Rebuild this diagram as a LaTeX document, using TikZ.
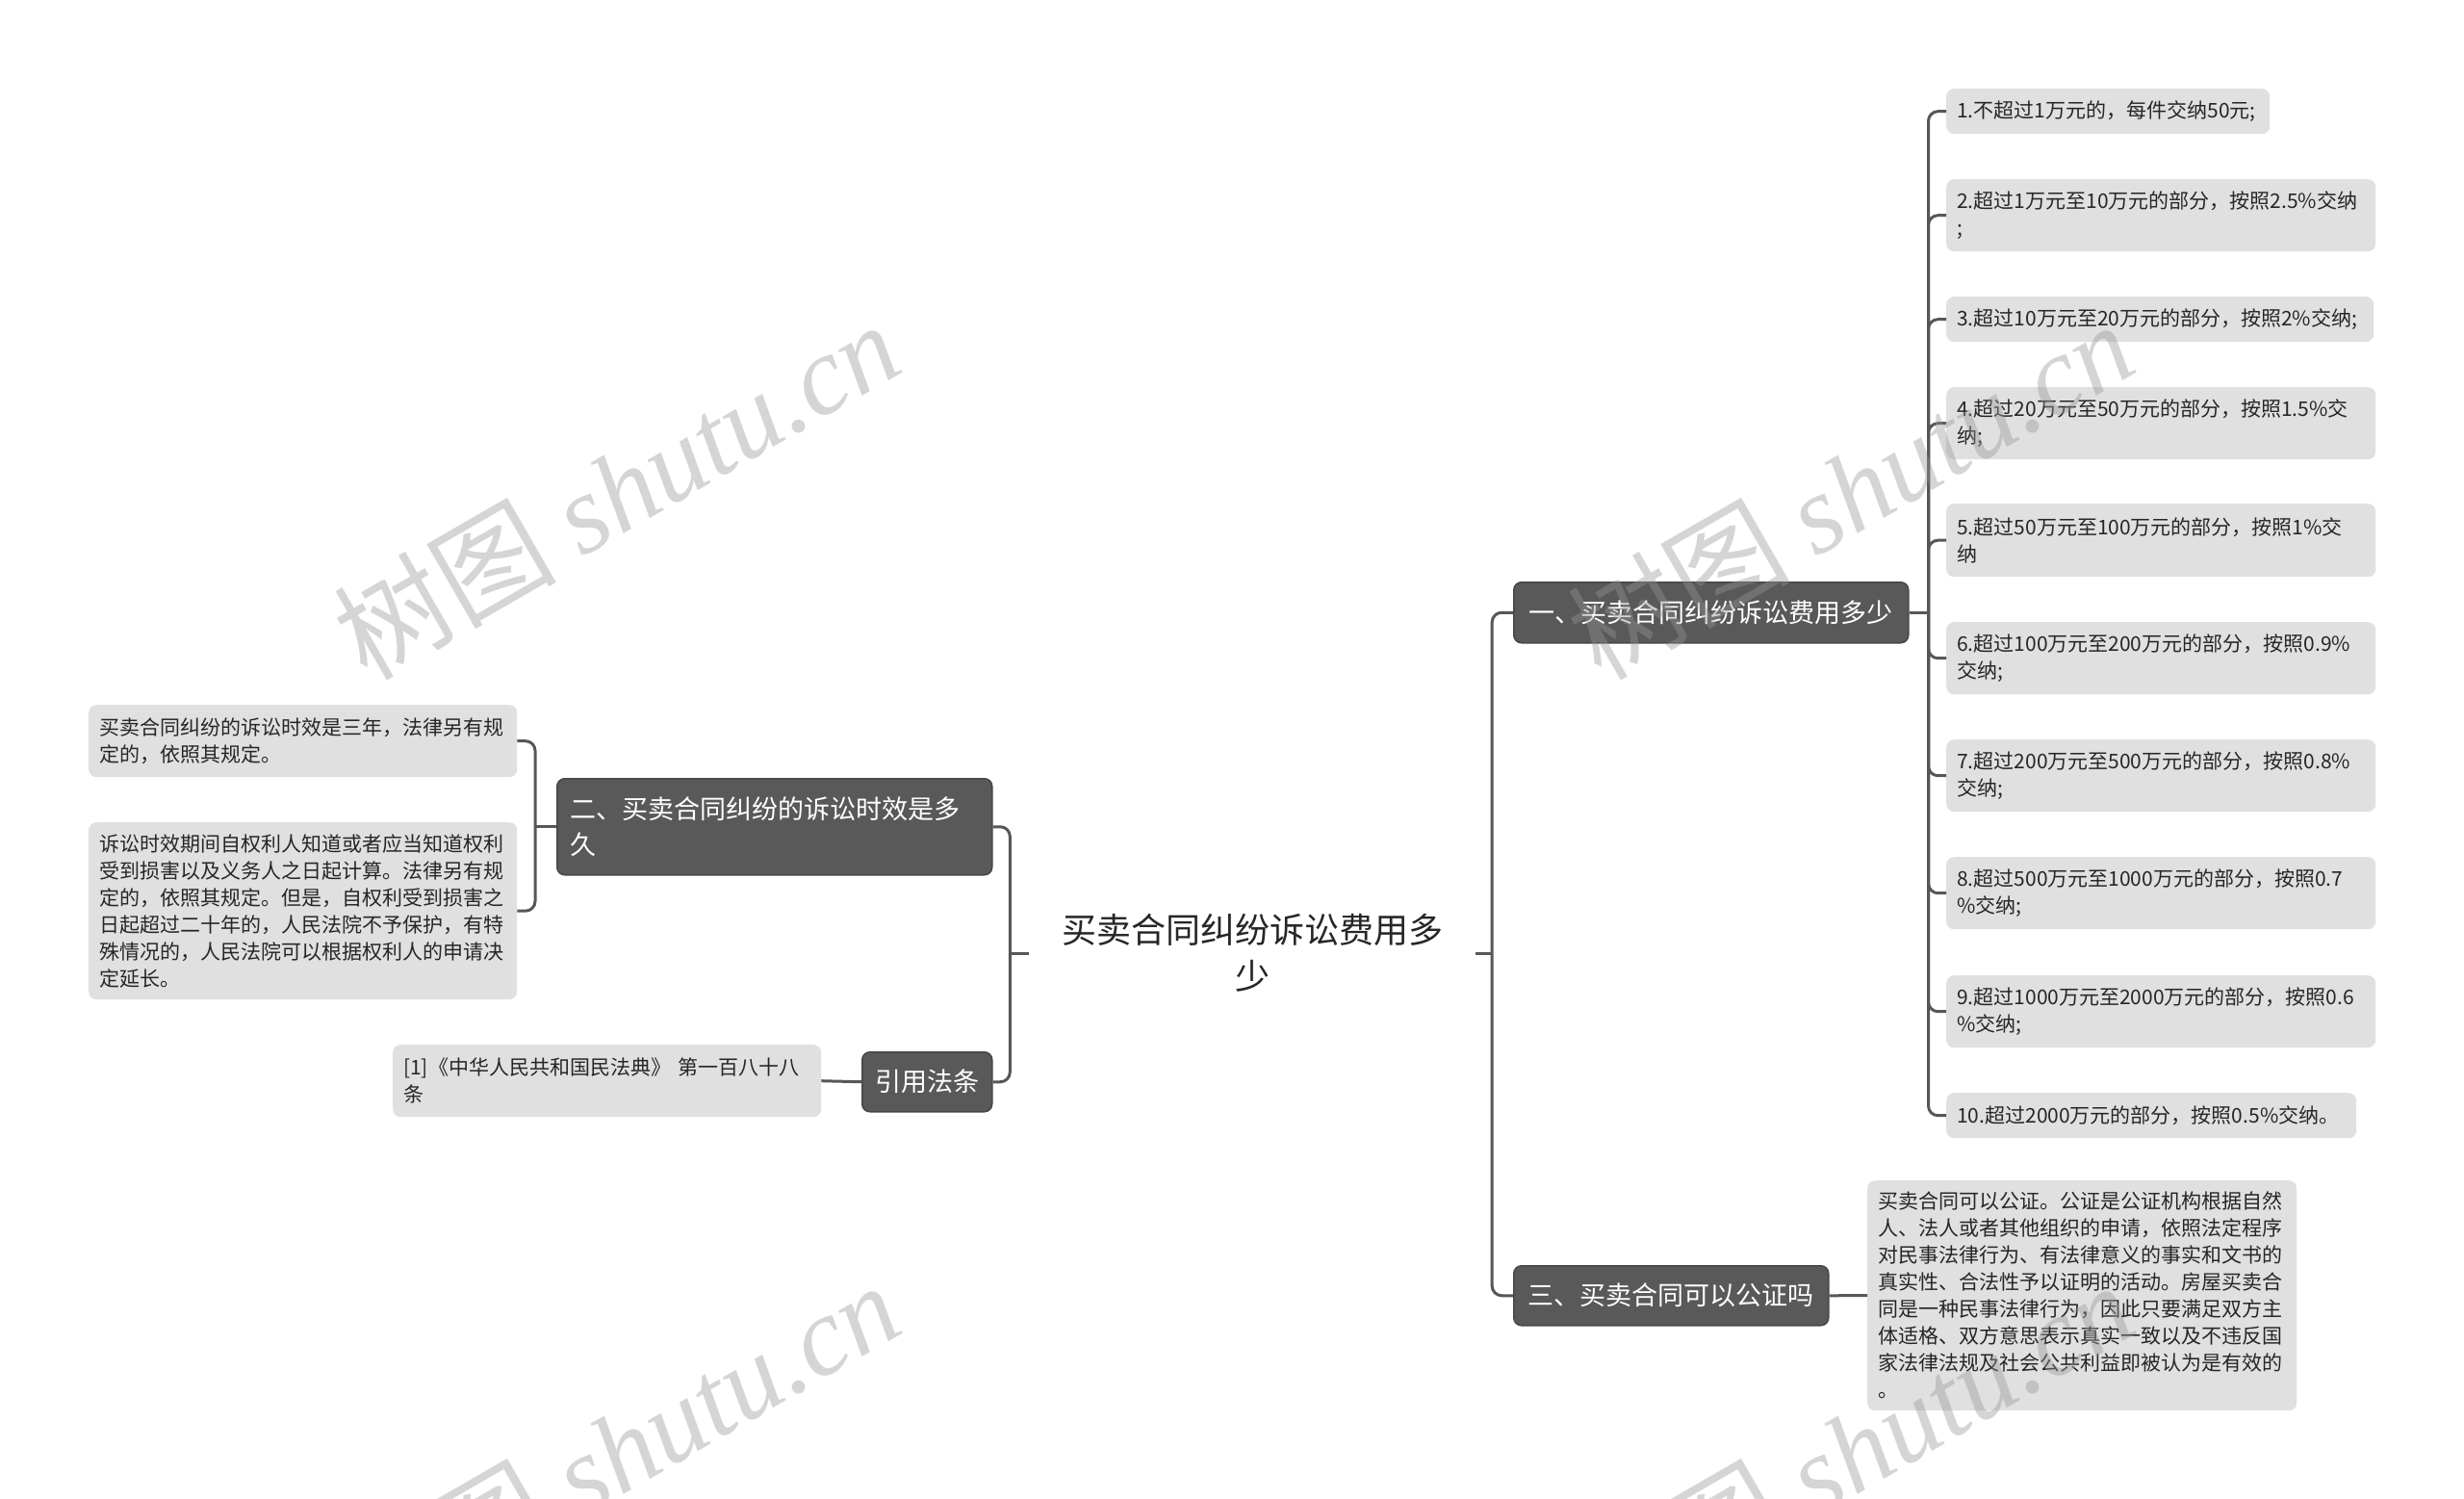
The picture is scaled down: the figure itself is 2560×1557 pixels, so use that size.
\documentclass[tikz,border=0pt]{standalone}
\usepackage{fontspec}
\setmainfont{Noto Sans CJK SC}
\newfontfamily\wmserif{Liberation Serif}
\definecolor{boxc}{HTML}{595959}
\definecolor{boxline}{HTML}{474747}
\definecolor{leafc}{HTML}{E0E0E0}
\definecolor{linec}{HTML}{575757}
\definecolor{textc}{HTML}{262626}
\definecolor{wmc}{HTML}{969696}
\begin{document}
\begin{tikzpicture}[x=1pt,y=-1pt,
  conn/.style={draw=linec, line width=3pt, rounded corners=10pt},
  branch/.style={fill=boxc, draw=boxline, line width=1.5pt, rounded corners=8pt, text=white,
    anchor=north west, inner sep=0pt, align=center, font=\fontsize{27}{37}\selectfont},
  leaf/.style={fill=leafc, rounded corners=8pt, anchor=north west, inner xsep=11pt, inner ysep=0pt,
    align=left, text=textc, font=\fontsize{21}{28}\selectfont},
  wm/.style={rotate=30, text=wmc, opacity=0.4, inner sep=0pt, font=\fontsize{116}{116}\selectfont}]
\fill[white] (0,0) rectangle (2560,1557);
\useasboundingbox (0,0) rectangle (2560,1557);

% root
\node[font=\fontsize{36}{48}\selectfont, align=center, minimum width=463pt, inner sep=0pt, text=textc]
  (root) at (1301,990) {买卖合同纠纷诉讼费用多\\少};

% branches
\node[branch, minimum width=410pt, minimum height=63pt] (b1) at (1572,604) {一、买卖合同纠纷诉讼费用多少};
\node[branch, align=left, text width=424pt, inner xsep=14pt, minimum height=100pt] (b2) at (578,808)
  {二、买卖合同纠纷的诉讼时效是多\\久};
\node[branch, minimum width=135pt, minimum height=62pt] (ref) at (895,1092) {引用法条};
\node[branch, minimum width=327pt, minimum height=62pt] (b3) at (1572,1314) {三、买卖合同可以公证吗};

% right leaves
\node[leaf, text width=314pt, minimum height=47pt] (r1) at (2022,92) {1.不超过1万元的，每件交纳50元;};
\node[leaf, text width=424pt, minimum height=75pt] (r2) at (2022,186) {2.超过1万元至10万元的部分，按照2.5\%交纳\\;};
\node[leaf, text width=422pt, minimum height=47pt] (r3) at (2022,308) {3.超过10万元至20万元的部分，按照2\%交纳;};
\node[leaf, text width=424pt, minimum height=75pt] (r4) at (2022,402) {4.超过20万元至50万元的部分，按照1.5\%交\\纳;};
\node[leaf, text width=424pt, minimum height=76pt] (r5) at (2022,523) {5.超过50万元至100万元的部分，按照1\%交\\纳};
\node[leaf, text width=424pt, minimum height=75pt] (r6) at (2022,646) {6.超过100万元至200万元的部分，按照0.9\%\\交纳;};
\node[leaf, text width=424pt, minimum height=75pt] (r7) at (2022,768) {7.超过200万元至500万元的部分，按照0.8\%\\交纳;};
\node[leaf, text width=424pt, minimum height=75pt] (r8) at (2022,890) {8.超过500万元至1000万元的部分，按照0.7\\\%交纳;};
\node[leaf, text width=424pt, minimum height=75pt] (r9) at (2022,1013) {9.超过1000万元至2000万元的部分，按照0.6\\\%交纳;};
\node[leaf, text width=404pt, minimum height=47pt] (r10) at (2022,1135) {10.超过2000万元的部分，按照0.5\%交纳。};

% big leaf
\node[leaf, text width=424pt, minimum height=239pt] (big) at (1940,1226)
  {买卖合同可以公证。公证是公证机构根据自然\\人、法人或者其他组织的申请，依照法定程序\\对民事法律行为、有法律意义的事实和文书的\\真实性、合法性予以证明的活动。房屋买卖合\\同是一种民事法律行为，因此只要满足双方主\\体适格、双方意思表示真实一致以及不违反国\\家法律法规及社会公共利益即被认为是有效的\\。};

% left leaves
\node[leaf, text width=423pt, minimum height=75pt] (l1) at (92,732)
  {买卖合同纠纷的诉讼时效是三年，法律另有规\\定的，依照其规定。};
\node[leaf, text width=423pt, minimum height=184pt] (l2) at (92,854)
  {诉讼时效期间自权利人知道或者应当知道权利\\受到损害以及义务人之日起计算。法律另有规\\定的，依照其规定。但是，自权利受到损害之\\日起超过二十年的，人民法院不予保护，有特\\殊情况的，人民法院可以根据权利人的申请决\\定延长。};
\node[leaf, text width=423pt, minimum height=75pt] (refl) at (408,1085)
  {[1]《中华人民共和国民法典》 第一百八十八\\条};

% junctions
\coordinate (jr) at ([xshift=17.5pt]root.east);
\coordinate (jl) at ([xshift=-20pt]root.west);
\coordinate (j1) at ([xshift=20pt]b1.east);
\coordinate (j2) at ([xshift=-22pt]b2.west);

% connectors
\draw[conn] (root.east) -- (jr);
\draw[conn] (jr) |- (b1.west);
\draw[conn] (jr) |- (b3.west);
\draw[conn] (root.west) -- (jl);
\draw[conn] (jl) |- (b2.east);
\draw[conn] (jl) |- (ref.east);
\draw[conn] (b1.east) -- (j1);
\foreach \i in {1,...,10} {\draw[conn] (j1) |- (r\i.west);}
\draw[conn] (b2.west) -- (j2);
\draw[conn] (j2) |- (l1.east);
\draw[conn] (j2) |- (l2.east);
\draw[conn] (ref.west) -- (refl.east);
\draw[conn] (b3.east) -- (big.west);

% watermarks
\node[wm] (wm1) at (640,508) {树图 {\wmserif\itshape shutu.cn}};
\node[wm] (wm2) at (1922,508) {树图 {\wmserif\itshape shutu.cn}};
\node[wm] (wm3) at (640,1506) {树图 {\wmserif\itshape shutu.cn}};
\node[wm] (wm4) at (1922,1506) {树图 {\wmserif\itshape shutu.cn}};
\end{tikzpicture}
\end{document}
